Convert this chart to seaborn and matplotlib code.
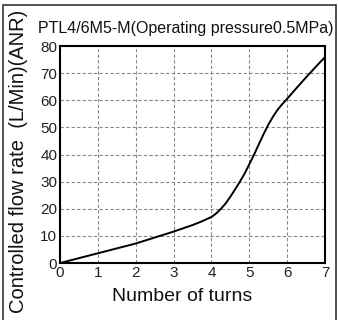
import matplotlib
matplotlib.use("Agg")
import matplotlib.pyplot as plt
import seaborn as sns
import pandas as pd
from matplotlib.patches import Rectangle

turns = [0, 0.5, 1, 1.5, 2, 2.5, 3, 3.25, 3.5, 3.75, 4, 4.125, 4.25, 4.375, 4.5, 4.625, 4.75,
         4.875, 5, 5.125, 5.25, 5.375, 5.5, 5.625, 5.75, 5.875, 6, 6.25, 6.5, 6.75, 7]
flow = [0, 1.8, 3.6, 5.4, 7.2, 9.4, 11.6, 12.8, 14.0, 15.4, 17.0, 18.3, 20.0, 22.0, 24.5, 27.2, 30.0,
        33.0, 36.5, 40.0, 43.8, 47.5, 51.0, 54.0, 56.6, 58.7, 60.6, 64.6, 68.5, 72.3, 76.0]
x_ticks = [0, 1, 2, 3, 4, 5, 6, 7]
y_ticks = [0, 10, 20, 30, 40, 50, 60, 70, 80]
title = "PTL4/6M5-M(Operating pressure0.5MPa)"
xlabel = "Number of turns"
ylabel = "Controlled flow rate  (L/Min)(ANR)"

sns.set_theme(style="white")
plt.rcParams['font.family'] = ['Liberation Sans', 'DejaVu Sans']

df = pd.DataFrame({"turns": turns, "flow": flow})

fig = plt.figure(figsize=(3.39, 3.2), dpi=100)
ax = fig.add_axes([0.177, 0.178, 0.782, 0.678])
sns.lineplot(data=df, x="turns", y="flow", ax=ax, color="black", linewidth=1.4)

ax.set_xlim(0, 7)
ax.set_ylim(0, 80)
ax.set_xticks(x_ticks)
ax.set_yticks(y_ticks)
ax.grid(True, linestyle=(0, (3, 2)), color="#888888", linewidth=0.8)
for s in ax.spines.values():
    s.set_color("black")
    s.set_linewidth(1.5)
ax.tick_params(axis="both", length=0, labelsize=11, colors="#222222", pad=2)
ax.set_xlabel(xlabel, fontsize=14, labelpad=3, color="#111111")
ax.xaxis.set_label_coords(0.46, -0.115)
ax.set_ylabel("")
fig.text(19/339, 0.497, ylabel, fontsize=14.5, color="#111111", rotation=90,
         ha="center", va="center")
fig.text(0.112, 0.912, title, fontsize=11.5, color="#111111", ha="left", va="center")

fig.patches.append(Rectangle((3/339, -0.1), 333/339, 1.1 - 5/320, transform=fig.transFigure,
                             fill=False, edgecolor="#333333", linewidth=1.2))

fig.savefig("out.png", dpi=100)
